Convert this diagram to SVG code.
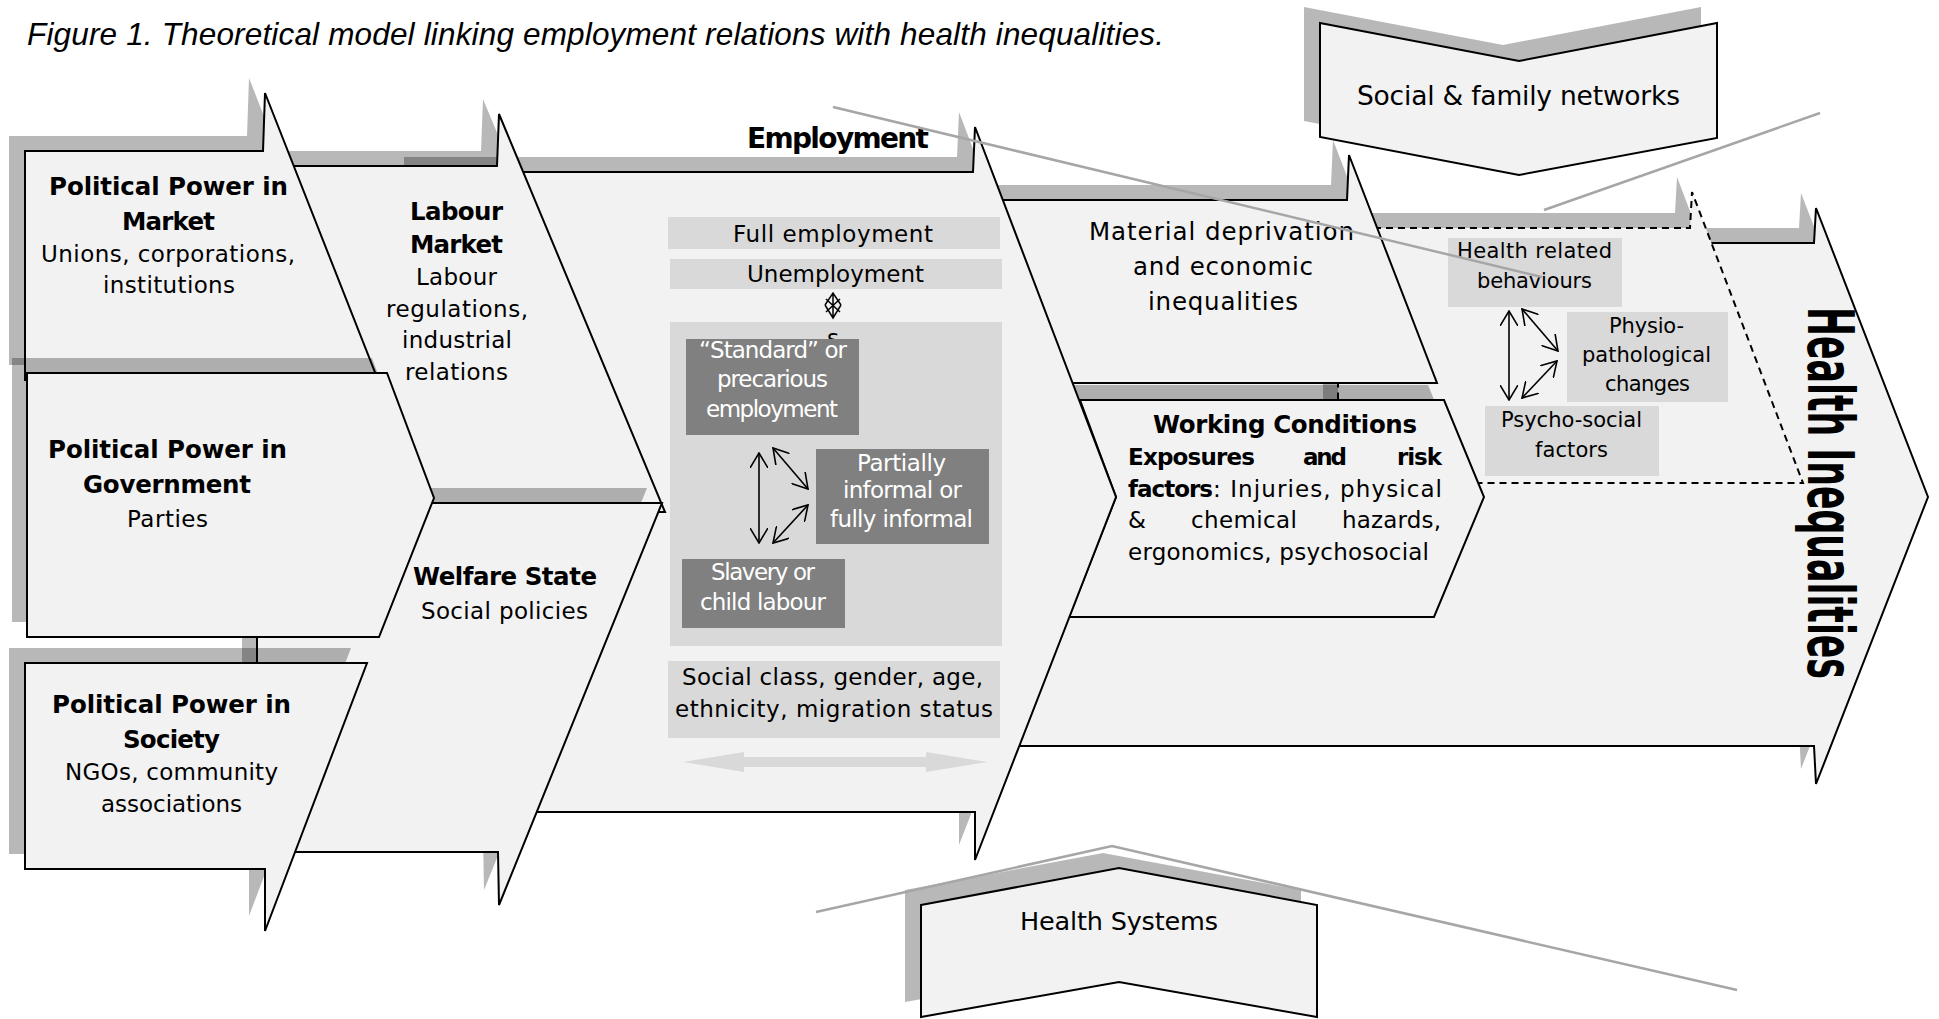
<svg xmlns="http://www.w3.org/2000/svg" xmlns:xlink="http://www.w3.org/1999/xlink" width="1939" height="1019" viewBox="0 0 1939 1019">
<defs>
<style>
.shp{fill:#f2f2f2;stroke:#000;stroke-width:2;stroke-linejoin:miter}
.dsh{fill:#f2f2f2;stroke:#000;stroke-width:2;stroke-dasharray:7,5}
.shd{fill:#000;fill-opacity:.28;stroke:none}
.t{font-family:'DejaVu Sans',Verdana,sans-serif;font-size:23px;fill:#000}
.b{font-weight:bold;font-size:24.5px}
.s21{font-size:21px}
.s23{font-size:23px}
.s24{font-size:24.5px}
.s25{font-size:25.5px}
.s26{font-size:26.5px}
.s28{font-size:28px}
.s64{font-size:64px}
.w{fill:#fff}
.box{fill:#d9d9d9}
.dbox{fill:#808080}
.gl{stroke:#a6a6a6;stroke-width:2.5;fill:none}
.ar{stroke:#000;stroke-width:1.6;fill:none;marker-start:url(#ah);marker-end:url(#ah)}
</style>
<marker id="ah" viewBox="0 0 16 18" refX="15" refY="9" markerWidth="16" markerHeight="18" markerUnits="userSpaceOnUse" orient="auto-start-reverse"><path d="M0,0 L15,9 L0,18" fill="none" stroke="#000" stroke-width="1.6"/></marker>
<polygon id="p-hi" points="990,243 1814,243 1816,208 1928,497 1816,784 1814,746 990,746"/>
<polygon id="p-dash" points="1338,228 1690,228 1692,192 1803,483 1338,483"/>
<polygon id="p-mat" points="990,200 1347,200 1349,155 1437,383 990,383"/>
<polygon id="p-wc" points="1080,400 1444,400 1484,497 1434,617 1069,617 1116,497"/>
<polygon id="p-emp" points="420,172 973,172 975,127 1116,497 975,860 975,812 420,812"/>
<polygon id="p-lab" points="280,166 497,166 499,114 665,512 280,512"/>
<polygon id="p-wel" points="257,503 662,503 499,905 498,852 257,852"/>
<polygon id="p-mkt" points="25,151 263,151 265,93 378,380 25,380"/>
<polygon id="p-gov" points="27,373 387,373 434,498 379,637 27,637"/>
<polygon id="p-soc" points="25,663 367,663 265,931 265,869 25,869"/>
<polygon id="p-net" points="1320,23 1519,61 1717,23 1717,138 1519,175 1320,137"/>
<polygon id="p-hs" points="921,905 1119,868 1317,905 1317,1017 1119,982 921,1017"/>
</defs>
<rect width="1939" height="1019" fill="#fff"/>

<g id="title">
<text x="27" y="45" font-family="'Liberation Sans',Arial,sans-serif" font-style="italic" font-size="31.5" textLength="1137">Figure 1. Theoretical model linking employment relations with health inequalities.</text>
</g>

<g id="health-inequalities">
<use xlink:href="#p-hi" class="shd" transform="translate(-15,-15)"/>
<use xlink:href="#p-hi" class="shp"/>
<text class="t b s64" transform="translate(1808,307) rotate(90)" textLength="372" lengthAdjust="spacingAndGlyphs">Health Inequalities</text>
</g>

<g id="health-pathways">
<use xlink:href="#p-dash" class="shd" transform="translate(-15,-15)"/>
<use xlink:href="#p-dash" class="dsh"/>
<rect class="box" x="1448" y="238" width="174" height="69"/>
<text class="t s21" x="1457" y="258" textLength="155">Health related</text>
<text class="t s21" x="1477" y="288" textLength="115">behaviours</text>
<rect class="box" x="1567" y="312" width="161" height="90"/>
<text class="t s21" x="1609" y="333" textLength="75">Physio-</text>
<text class="t s21" x="1582" y="362" textLength="129">pathological</text>
<text class="t s21" x="1605" y="391" textLength="85">changes</text>
<rect class="box" x="1485" y="406" width="174" height="70"/>
<text class="t s21" x="1501" y="427" textLength="141">Psycho-social</text>
<text class="t s21" x="1535" y="457" textLength="73">factors</text>
</g>

<g id="material-deprivation">
<use xlink:href="#p-mat" class="shd" transform="translate(-16,-15)"/>
<use xlink:href="#p-mat" class="shp"/>
<text class="t s24" x="1089" y="240" textLength="265">Material deprivation</text>
<text class="t s24" x="1133" y="275" textLength="180">and economic</text>
<text class="t s24" x="1148" y="310" textLength="150">inequalities</text>
</g>

<g id="working-conditions">
<use xlink:href="#p-wc" class="shd" transform="translate(-16,-15)"/>
<use xlink:href="#p-wc" class="shp"/>
<text class="t b" x="1153" y="433" textLength="264">Working Conditions</text>
<text class="t b s23" x="1128" y="465" textLength="127">Exposures</text>
<text class="t b s23" x="1303" y="465" textLength="44">and</text>
<text class="t b s23" x="1397" y="465" textLength="45">risk</text>
<text class="t b s23" x="1128" y="497" textLength="85">factors</text>
<text class="t" x="1213" y="497" textLength="229">: Injuries, physical</text>
<text class="t" x="1128" y="528">&amp;</text>
<text class="t" x="1191" y="528" textLength="106">chemical</text>
<text class="t" x="1342" y="528" textLength="99">hazards,</text>
<text class="t" x="1128" y="560" textLength="301">ergonomics, psychosocial</text>
</g>

<g id="employment">
<use xlink:href="#p-emp" class="shd" transform="translate(-16,-15)"/>
<use xlink:href="#p-emp" class="shp"/>
<text class="t b s28" x="747" y="148" textLength="182">Employment</text>
<rect class="box" x="668" y="217" width="332" height="32"/>
<text class="t" x="733" y="242" textLength="200">Full employment</text>
<rect class="box" x="670" y="259" width="332" height="30"/>
<text class="t" x="747" y="282" textLength="177">Unemployment</text>
<path d="M833,293 V318 M825,305 L833,293 L841,305 M825,305 L833,318 L841,305 M826,299 L840,312 M840,299 L826,312" fill="none" stroke="#000" stroke-width="1.5"/>
<rect class="box" x="670" y="322" width="332" height="324"/>
<text class="t" x="833" y="346" text-anchor="middle">s</text>
<rect class="dbox" x="686" y="339" width="173" height="96"/>
<text class="t w" x="699" y="358" textLength="148">“Standard” or</text>
<text class="t w" x="717" y="387" textLength="111">precarious</text>
<text class="t w" x="706" y="417" textLength="132">employment</text>
<rect class="dbox" x="816" y="449" width="173" height="95"/>
<text class="t w" x="857" y="471" textLength="89">Partially</text>
<text class="t w" x="843" y="498" textLength="119">informal or</text>
<text class="t w" x="830" y="527" textLength="143">fully informal</text>
<rect class="dbox" x="682" y="559" width="163" height="69"/>
<text class="t w" x="711" y="580" textLength="104">Slavery or</text>
<text class="t w" x="700" y="610" textLength="126">child labour</text>
<rect class="box" x="668" y="661" width="332" height="77"/>
<text class="t" x="682" y="685" textLength="301">Social class, gender, age,</text>
<text class="t" x="675" y="717" textLength="318">ethnicity, migration status</text>
<polygon fill="#d9d9d9" points="683,762 744,752 744,757 926,757 926,752 987,762 926,772 926,767 744,767 744,772"/>
</g>

<g id="labour-market">
<use xlink:href="#p-lab" class="shd" transform="translate(-16,-15)"/>
<use xlink:href="#p-lab" class="shp"/>
<text class="t b" x="410" y="220" textLength="93">Labour</text>
<text class="t b" x="410" y="253" textLength="93">Market</text>
<text class="t" x="416" y="285" textLength="81">Labour</text>
<text class="t" x="386" y="317" textLength="142">regulations,</text>
<text class="t" x="402" y="348" textLength="110">industrial</text>
<text class="t" x="405" y="380" textLength="103">relations</text>
</g>

<g id="welfare-state">
<use xlink:href="#p-wel" class="shd" transform="translate(-15,-15)"/>
<use xlink:href="#p-wel" class="shp"/>
<text class="t b" x="413" y="585" textLength="184">Welfare State</text>
<text class="t" x="421" y="619" textLength="167">Social policies</text>
</g>

<g id="political-power-market">
<use xlink:href="#p-mkt" class="shd" transform="translate(-16,-15)"/>
<use xlink:href="#p-mkt" class="shp"/>
<text class="t b" x="49" y="195" textLength="239">Political Power in</text>
<text class="t b" x="122" y="230" textLength="93">Market</text>
<text class="t" x="41" y="262" textLength="254">Unions, corporations,</text>
<text class="t" x="103" y="293" textLength="132">institutions</text>
</g>

<g id="political-power-government">
<use xlink:href="#p-gov" class="shd" transform="translate(-15,-15)"/>
<use xlink:href="#p-gov" class="shp"/>
<text class="t b" x="48" y="458" textLength="239">Political Power in</text>
<text class="t b" x="83" y="493" textLength="168">Government</text>
<text class="t" x="127" y="527" textLength="81">Parties</text>
</g>

<g id="political-power-society">
<use xlink:href="#p-soc" class="shd" transform="translate(-16,-15)"/>
<use xlink:href="#p-soc" class="shp"/>
<text class="t b" x="52" y="713" textLength="239">Political Power in</text>
<text class="t b" x="123" y="748" textLength="97">Society</text>
<text class="t" x="65" y="780" textLength="213">NGOs, community</text>
<text class="t" x="101" y="812" textLength="141">associations</text>
</g>

<g id="social-family-networks">
<use xlink:href="#p-net" class="shd" transform="translate(-16,-16)"/>
<use xlink:href="#p-net" class="shp"/>
<text class="t s26" x="1357" y="105" textLength="323">Social &amp; family networks</text>
</g>

<g id="health-systems">
<use xlink:href="#p-hs" class="shd" transform="translate(-16,-15)"/>
<use xlink:href="#p-hs" class="shp"/>
<text class="t s25" x="1020" y="930" textLength="198">Health Systems</text>
</g>

<g id="connectors">
<line class="ar" x1="759" y1="453" x2="759" y2="543"/>
<line class="ar" x1="773" y1="448" x2="808" y2="489"/>
<line class="ar" x1="773" y1="543" x2="808" y2="505"/>
<line class="ar" x1="1509" y1="311" x2="1509" y2="400"/>
<line class="ar" x1="1522" y1="309" x2="1558" y2="351"/>
<line class="ar" x1="1522" y1="398" x2="1557" y2="361"/>
<line class="gl" x1="833" y1="107" x2="1542" y2="277"/>
<line class="gl" x1="1544" y1="210" x2="1820" y2="113"/>
<polyline class="gl" points="816,912 1112,846 1737,990"/>
</g>
</svg>
